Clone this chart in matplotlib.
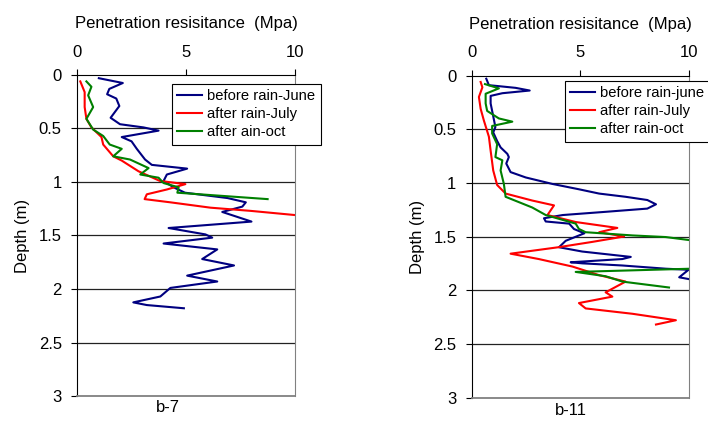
import matplotlib
matplotlib.use("Agg")
import matplotlib.pyplot as plt

plt.rcParams['font.family'] = ['Liberation Sans', 'DejaVu Sans']

# b-7 profiles (depth in m, resistance in MPa)
b7_june_depth = [0.03, 0.075, 0.13, 0.18, 0.22, 0.29, 0.40, 0.46, 0.49, 0.52, 0.58, 0.62, 0.69, 0.79,
                 0.84, 0.875, 0.93, 0.99, 1.05, 1.10, 1.15, 1.19, 1.23, 1.28, 1.37, 1.43, 1.49, 1.52,
                 1.575, 1.63, 1.72, 1.78, 1.875, 1.93, 1.99, 2.07, 2.125, 2.15, 2.18]
b7_june_mpa = [1.0, 2.1, 1.48, 1.38, 1.8, 1.94, 1.54, 1.97, 3.05, 3.74, 2.05, 2.5, 2.74, 3.12,
               3.43, 5.05, 4.12, 3.97, 4.43, 4.95, 6.9, 7.74, 7.58, 6.66, 8.0, 4.2, 5.89, 6.2,
               3.97, 6.43, 5.74, 7.2, 5.05, 6.43, 4.28, 3.82, 2.58, 3.2, 4.9]

b7_july_depth = [0.06, 0.16, 0.30, 0.41, 0.49, 0.58, 0.65, 0.76, 0.80, 0.90, 0.99, 1.02, 1.07,
                 1.115, 1.16, 1.19, 1.24, 1.27, 1.31]
b7_july_mpa = [0.15, 0.35, 0.35, 0.43, 0.66, 1.12, 1.2, 1.66, 2.05, 2.82, 3.8, 4.97, 4.12,
               3.2, 3.1, 4.28, 6.12, 7.97, 10.05]

b7_oct_depth = [0.06, 0.11, 0.19, 0.30, 0.41, 0.51, 0.57, 0.65, 0.69, 0.76, 0.79, 0.87, 0.93,
                0.96, 1.01, 1.05, 1.10, 1.16]
b7_oct_mpa = [0.43, 0.66, 0.51, 0.74, 0.43, 0.74, 1.2, 1.5, 2.05, 1.66, 2.43, 3.28, 2.9,
              3.74, 3.97, 4.66, 4.6, 8.74]

# b-11 profiles
b11_june_depth = [0.03, 0.09, 0.115, 0.14, 0.165, 0.19, 0.26, 0.36, 0.48, 0.53, 0.61, 0.67, 0.73,
                  0.76, 0.82, 0.90, 0.95, 1.01, 1.06, 1.10, 1.13, 1.16, 1.20, 1.24, 1.27, 1.30,
                  1.33, 1.36, 1.38, 1.43, 1.47, 1.54, 1.60, 1.64, 1.69, 1.71, 1.74, 1.75, 1.77,
                  1.80, 1.81, 1.88, 1.90]
b11_june_mpa = [0.68, 0.8, 2.03, 2.68, 1.42, 0.88, 0.88, 0.98, 1.1, 1.0, 1.18, 1.34, 1.65,
                1.72, 1.6, 1.8, 2.5, 3.72, 4.95, 5.88, 7.1, 8.1, 8.5, 8.1, 6.18, 4.2,
                3.34, 3.42, 4.5, 4.72, 5.2, 4.34, 4.03, 5.1, 7.34, 6.95, 4.57, 5.1, 6.95,
                8.95, 10.0, 9.57, 10.1]

b11_july_depth = [0.06, 0.11, 0.20, 0.31, 0.42, 0.57, 0.70, 0.885, 1.02, 1.10, 1.165, 1.21, 1.30,
                  1.365, 1.42, 1.46, 1.50, 1.55, 1.60, 1.66, 1.71, 1.78, 1.86, 1.92, 2.02, 2.06,
                  2.12, 2.17, 2.22, 2.28, 2.32]
b11_july_mpa = [0.42, 0.5, 0.34, 0.42, 0.57, 0.8, 0.88, 1.0, 1.18, 1.57, 2.8, 3.8, 3.5,
                4.8, 6.72, 5.88, 7.03, 5.57, 4.0, 1.8, 3.1, 4.65, 5.88, 7.1, 6.18, 6.49,
                4.95, 5.26, 7.42, 9.42, 8.5]

b11_oct_depth = [0.08, 0.12, 0.17, 0.26, 0.33, 0.40, 0.43, 0.47, 0.54, 0.64, 0.76, 0.79, 0.885,
                 1.01, 1.13, 1.23, 1.30, 1.38, 1.43, 1.46, 1.49, 1.505, 1.535, 1.60, 1.78, 1.80,
                 1.83, 1.87, 1.92, 1.975]
b11_oct_mpa = [0.62, 1.26, 0.65, 0.65, 0.72, 1.26, 1.88, 0.95, 0.95, 1.18, 1.1, 1.42, 1.34,
               1.49, 1.57, 2.8, 3.42, 4.8, 4.95, 5.26, 7.42, 8.95, 10.1, 12.0, 12.0, 10.1,
               4.8, 6.18, 6.95, 9.1]

x_ticks = [0, 5, 10]
y_ticks = [0, 0.5, 1, 1.5, 2, 2.5, 3]
y_ticklabels = ['0', '0.5', '1', '1.5', '2', '2.5', '3']

COLORS = ['#000080', '#ff0000', '#008000']

panels = [
    dict(rect=[0.1088, 0.0769, 0.3080, 0.7483], name='b-7', name_x=0.237, name_y=0.049,
         labels=['before rain-June', 'after rain-July', 'after ain-oct'],
         series=[(b7_june_mpa, b7_june_depth), (b7_july_mpa, b7_july_depth), (b7_oct_mpa, b7_oct_depth)],
         leg=(0.436, 0.972)),
    dict(rect=[0.6660, 0.0734, 0.3065, 0.7506], name='b-11', name_x=0.806, name_y=0.044,
         labels=['before rain-june', 'after rain-July', 'after rain-oct'],
         series=[(b11_june_mpa, b11_june_depth), (b11_july_mpa, b11_july_depth), (b11_oct_mpa, b11_oct_depth)],
         leg=(0.431, 0.983)),
]

fig = plt.figure(figsize=(7.08, 4.29), dpi=100)

for p in panels:
    ax = fig.add_axes(p['rect'])
    for (x, y), c, lab in zip(p['series'], COLORS, p['labels']):
        ax.plot(x, y, color=c, lw=1.5, label=lab)
    ax.set_xlim(0, 10)
    ax.set_ylim(3, 0)
    ax.xaxis.tick_top()
    ax.xaxis.set_label_position('top')
    ax.set_xticks(x_ticks)
    ax.set_yticks(y_ticks)
    ax.set_yticklabels(y_ticklabels)
    ax.tick_params(axis='x', direction='out', length=4, labelsize=12, pad=7, color='black')
    ax.tick_params(axis='y', direction='out', length=4, labelsize=12, pad=7)
    for yy in y_ticks[1:-1]:
        ax.axhline(yy, color='#222222', lw=0.9, zorder=0)
    ax.spines['left'].set_color('black')
    ax.spines['top'].set_color('black')
    ax.spines['right'].set_color('#808080')
    ax.spines['bottom'].set_color('#808080')
    ax.spines['bottom'].set_linewidth(1.3)
    ax.set_xlabel('Penetration resisitance  (Mpa)', fontsize=12, labelpad=12)
    ax.set_ylabel('Depth (m)', fontsize=12, labelpad=6)
    leg = ax.legend(loc='upper left', bbox_to_anchor=p['leg'], fontsize=10.6,
                    frameon=True, fancybox=False, framealpha=1, edgecolor='black',
                    handlelength=1.7, handletextpad=0.35, borderpad=0.35, labelspacing=0.28,
                    borderaxespad=0)
    leg.set_clip_on(False)
    leg.get_frame().set_linewidth(0.8)
    fig.text(p['name_x'], p['name_y'], p['name'], fontsize=12, ha='center', va='center')

fig.savefig('out.png', dpi=100)
